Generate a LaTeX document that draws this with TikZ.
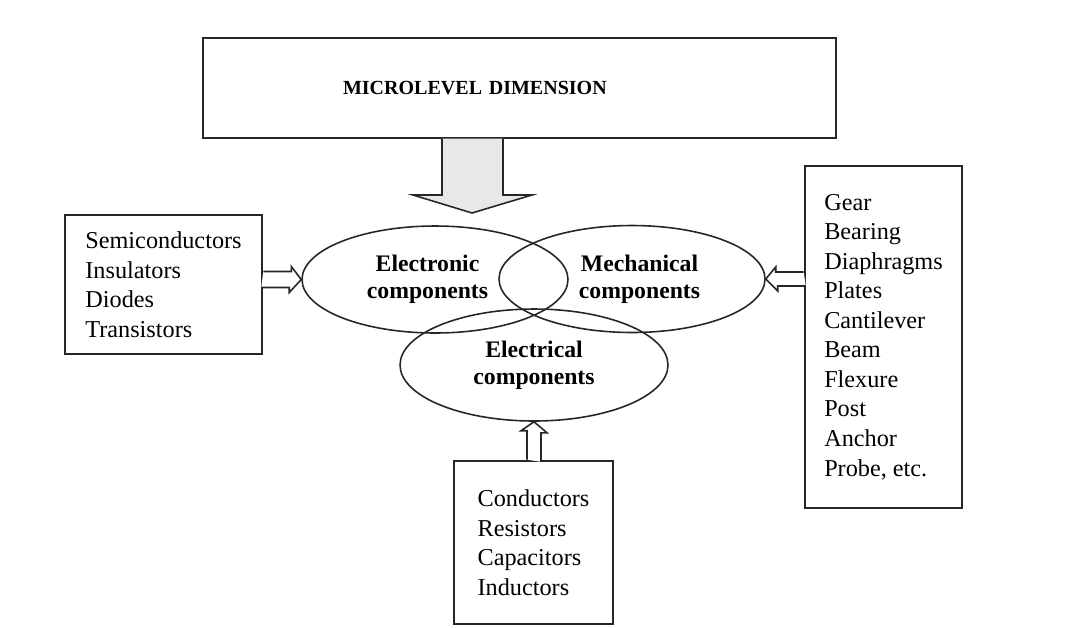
\documentclass[tikz,border=0pt]{standalone}
\usepackage{fontspec}
\setmainfont{Liberation Serif}
\usetikzlibrary{shapes.geometric}

\begin{document}
\begin{tikzpicture}[
    x=0.02cm, y=-0.02cm,
    box/.style={draw=black!85, line width=0.9pt, align=left, inner sep=0pt,
                font=\fontsize{13.8}{16.8}\selectfont},
    comp/.style={draw=black!85, line width=0.9pt, ellipse, inner sep=0pt,
                 minimum width=5.32cm, minimum height=2.14cm, align=center,
                 font=\fontsize{13.5}{15.4}\selectfont\bfseries},
    hollow/.style={draw=black!85, line width=0.9pt, fill=white, line join=miter}
]
\useasboundingbox[fill=white] (0,0) rectangle (1077,627);

% Header
\node[box, text width=12.66cm, minimum height=2cm,
      font=\fontsize{11.4}{13}\selectfont\bfseries] (micro) at (519.5,88)
    {\hspace*{2.8cm}MICROLEVEL DIMENSION};

% Component ellipses
\node[comp] (elec) at (435,279.5) {Electronic\hspace*{0.3cm}\\components\hspace*{0.3cm}};
\node[comp] (mech) at (632,279) {\hspace*{0.3cm}Mechanical\\\hspace*{0.3cm}components};
\node[comp, minimum width=5.36cm, minimum height=2.24cm] (elect) at (534,365)
    {Electrical\\components};

% Lists
\node[box, minimum width=3.94cm, minimum height=2.78cm] (semi) at (163.5,284.5)
    {Semiconductors\\Insulators\\Diodes\\Transistors};
\node[box, minimum width=3.14cm, minimum height=6.84cm] (gear) at (883.5,337)
    {Gear\\Bearing\\Diaphragms\\Plates\\Cantilever\\Beam\\Flexure\\Post\\Anchor\\Probe, etc.};
\node[box, minimum width=3.18cm, minimum height=3.26cm] (cond) at (533.5,542.5)
    {Conductors\\Resistors\\Capacitors\\Inductors};

% Block arrows
\coordinate (tip) at (472,213);
\filldraw[hollow, fill=gray!18] (442,138.5) -- (442,195) -- (413,195) -- (tip)
    -- (532,195) -- (503,195) -- (503,138.5);
\filldraw[hollow] ([xshift=0.3pt]semi.east) ++(0,-13) -- ++(28,0) -- ++(0,-5)
    -- (elec.west) -- ++(-12,13) -- ++(0,-5) -- ++(-28,0);
\filldraw[hollow] ([xshift=-0.3pt]gear.west) ++(0,-65) -- ++(-28,0) -- ++(0,-5)
    -- (mech.east) -- ++(12,12) -- ++(0,-5) -- ++(28,0);
\filldraw[hollow] ([yshift=0.3pt]cond.north) ++(-6.5,0) -- ++(0,-29) -- ++(-6,0)
    -- (elect.south) -- ++(13,11) -- ++(-6,0) -- ++(0,29);

\end{tikzpicture}
\end{document}
